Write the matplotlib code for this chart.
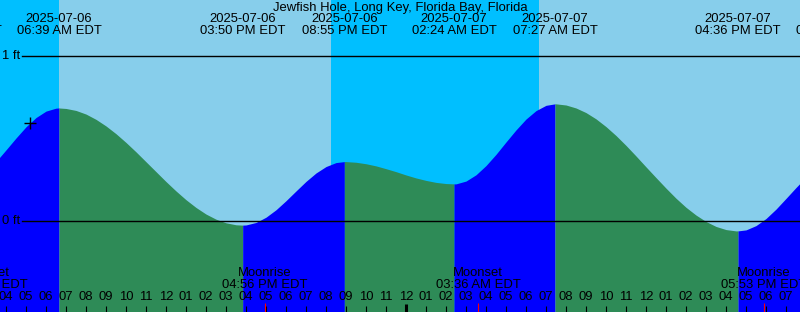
import numpy as np
import matplotlib
matplotlib.use("Agg")
import matplotlib.pyplot as plt
import matplotlib.transforms as mtransforms

# ---------------- data ----------------
title = "Jewfish Hole, Long Key, Florida Bay, Florida"

# hours since 2025-07-06 00:00 EDT
extreme_hours = [1.65, 6.65, 15.833, 20.917, 26.4, 31.45, 40.6, 45.65]
extreme_feet = [0.22, 0.685, -0.025, 0.36, 0.225, 0.71, -0.06, 0.38]
extreme_dates = ["2025-07-06", "2025-07-06", "2025-07-06", "2025-07-06",
                 "2025-07-07", "2025-07-07", "2025-07-07", "2025-07-07"]
extreme_times = ["01:39 AM EDT", "06:39 AM EDT", "03:50 PM EDT", "08:55 PM EDT",
                 "02:24 AM EDT", "07:27 AM EDT", "04:36 PM EDT", "09:39 PM EDT"]

curve_hours = np.arange(3.5, 44.01, 0.5)
curve_feet = [0.360, 0.431, 0.503, 0.571, 0.627, 0.666, 0.684,
              0.682, 0.670, 0.648, 0.616, 0.576, 0.529, 0.476, 0.419, 0.359,
              0.299, 0.239, 0.182, 0.129, 0.082, 0.042, 0.011, -0.011, -0.023,
              -0.024, -0.009, 0.023, 0.068, 0.123, 0.182, 0.240, 0.291, 0.330, 0.354,
              0.360, 0.356, 0.347, 0.334, 0.317, 0.299, 0.279, 0.261, 0.246, 0.234, 0.227,
              0.225, 0.242, 0.280, 0.336, 0.404, 0.479, 0.552, 0.618, 0.669, 0.701,
              0.710, 0.703, 0.685, 0.657, 0.619, 0.572, 0.518, 0.458, 0.394, 0.328,
              0.263, 0.199, 0.138, 0.083, 0.036, -0.003, -0.033, -0.052, -0.060,
              -0.054, -0.028, 0.015, 0.072, 0.137, 0.203, 0.266]

# sky: boundaries and night flags
sky_bounds = [3.5, 6.65, 20.25, 30.65, 44.0]
sky_night = [True, False, True, False]

moon_hours = [2.95, 16.933, 27.6, 41.883]
moon_names = ["Moonset", "Moonrise", "Moonset", "Moonrise"]
moon_times = ["02:57 AM EDT", "04:56 PM EDT", "03:36 AM EDT", "05:53 PM EDT"]

now_hour = 5.2
now_feet = 0.594

hour_ticks = list(range(4, 44))
hour_labels = ["04", "05", "06", "07", "08", "09", "10", "11", "12",
               "01", "02", "03", "04", "05", "06", "07", "08", "09", "10", "11",
               "12", "01", "02", "03", "04", "05", "06", "07", "08", "09", "10", "11",
               "12", "01", "02", "03", "04", "05", "06", "07"]
midnight_hours = [24]

level_lines = [1, 0]
level_labels = ["1 ft", "0 ft"]

# ---------------- colours ----------------
DAY = "#87CEEB"
NIGHT = "#00BFFF"
RISE = "#0000FF"
FALL = "#2E8B57"

W, H = 800, 312
fig = plt.figure(figsize=(W / 100, H / 100), dpi=100)
ax = fig.add_axes([0, 0, 1, 1])
XMIN, XMAX = 3.7, 43.7
YMIN, YMAX = -91 / 165, 221 / 165
ax.set_xlim(XMIN, XMAX)
ax.set_ylim(YMIN, YMAX)
ax.axis("off")

FONT = "Liberation Sans"
FS = 9.4

def fy(px):
    return 1 - px / H

trans = mtransforms.blended_transform_factory(ax.transData, ax.transAxes)
trans_ay = mtransforms.blended_transform_factory(ax.transAxes, ax.transData)

# sky
for i, night in enumerate(sky_night):
    ax.axvspan(sky_bounds[i], sky_bounds[i + 1], color=NIGHT if night else DAY,
               lw=0, zorder=0)

# curve with extremes merged
all_h = np.concatenate([curve_hours, extreme_hours])
all_f = np.concatenate([curve_feet, extreme_feet])
order = np.argsort(all_h)
all_h, all_f = all_h[order], all_f[order]

bounds = [curve_hours[0]] + [e for e in extreme_hours if curve_hours[0] < e < curve_hours[-1]] + [curve_hours[-1]]
for a, b in zip(bounds[:-1], bounds[1:]):
    m = (all_h >= a - 1e-9) & (all_h <= b + 1e-9)
    seg_h, seg_f = all_h[m], all_f[m]
    rising = seg_f[-1] > seg_f[0]
    ax.fill_between(seg_h, YMIN, seg_f, color=RISE if rising else FALL,
                    lw=0, zorder=1)

# level lines
for lv, lab in zip(level_lines, level_labels):
    ax.plot([22 / W, 1], [lv, lv], transform=trans_ay,
            color="black", lw=1.0, zorder=3)
    ax.text(20 / W, lv, lab, transform=trans_ay,
            ha="right", va="center", fontsize=FS, family=FONT, zorder=4)

# now marker
ax.plot([now_hour], [now_feet], marker="+", color="black", ms=8, mew=1.0, zorder=4)

# title
ax.text(0.5, fy(8), title, transform=ax.transAxes, ha="center", va="center",
        fontsize=FS, family=FONT, zorder=5)

# extreme labels
for h, d, t in zip(extreme_hours, extreme_dates, extreme_times):
    ax.text(h, fy(19.5), d, transform=trans, ha="center", va="center",
            fontsize=FS, family=FONT, zorder=5, clip_on=True)
    ax.text(h, fy(31.5), t, transform=trans, ha="center", va="center",
            fontsize=FS, family=FONT, zorder=5, clip_on=True)

# moon labels
for h, n, t in zip(moon_hours, moon_names, moon_times):
    ax.text(h, fy(273.5), n, transform=trans, ha="center", va="center",
            fontsize=FS, family=FONT, zorder=5, clip_on=True)
    ax.text(h, fy(285.5), t, transform=trans, ha="center", va="center",
            fontsize=FS, family=FONT, zorder=5, clip_on=True)

# hour ticks and labels
for h, lab in zip(hour_ticks, hour_labels):
    if h in midnight_hours:
        ax.plot([h, h], [0, fy(304)], transform=trans, color="black", lw=2.2,
                solid_capstyle="butt", zorder=4)
    else:
        ax.plot([h, h], [0, fy(306)], transform=trans, color="black", lw=0.8,
                solid_capstyle="butt", zorder=4)
    ax.text(h, fy(297.5), lab, transform=trans, ha="center", va="center",
            fontsize=FS, family=FONT, zorder=5, clip_on=True)

for h in moon_hours:
    ax.plot([h, h], [0, fy(303)], transform=trans, color="red", lw=0.8,
            solid_capstyle="butt", zorder=4)

fig.savefig("out.png", dpi=100)
